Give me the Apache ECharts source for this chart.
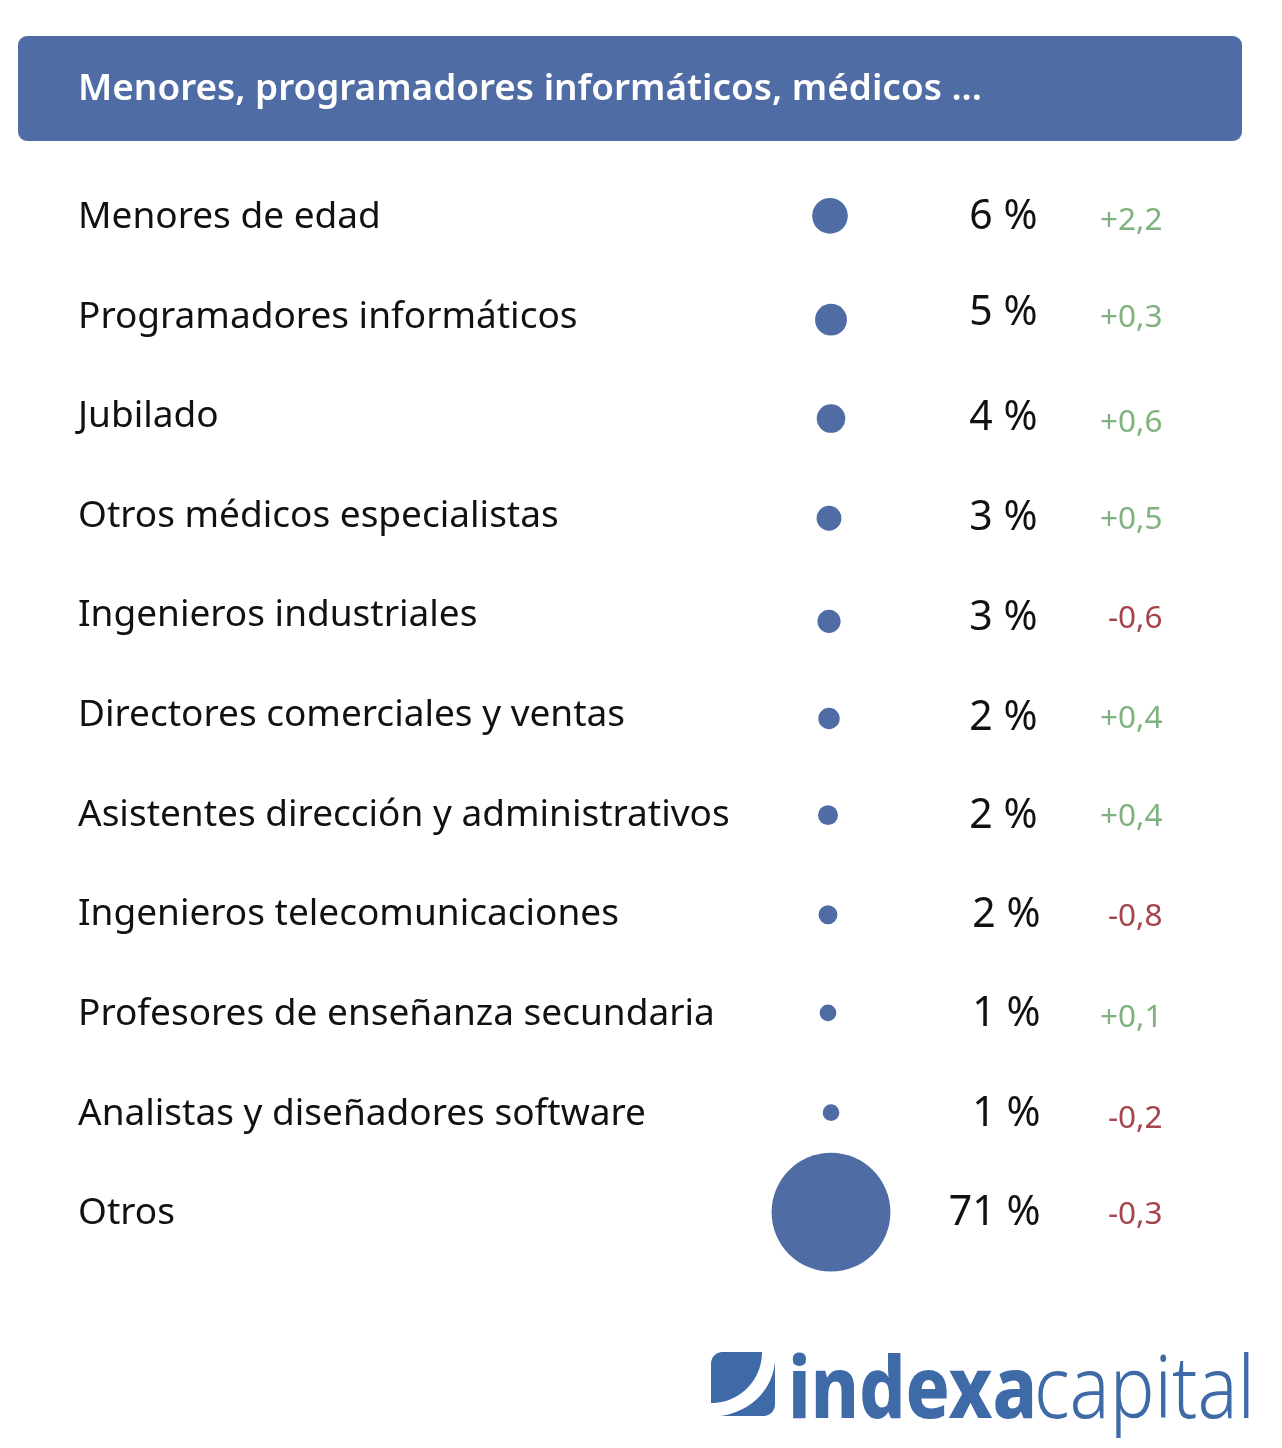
<!DOCTYPE html>
<html lang="es">
<head>
    <meta charset="UTF-8">
    <title>Menores, programadores informáticos, médicos ...</title>
    <script src="https://cdn.jsdelivr.net/npm/echarts@6/dist/echarts.min.js"></script>
    <style>
        html, body { margin: 0; background: #fff; }
    </style>
</head>
<body>
<div id="container" style="width:1282px;height:1448px;"></div>
<script>

    var titleText = 'Menores, programadores informáticos, médicos ...';
    var categories = [
        'Menores de edad',
        'Programadores informáticos',
        'Jubilado',
        'Otros médicos especialistas',
        'Ingenieros industriales',
        'Directores comerciales y ventas',
        'Asistentes dirección y administrativos',
        'Ingenieros telecomunicaciones',
        'Profesores de enseñanza secundaria',
        'Analistas y diseñadores software',
        'Otros'
    ];
    // the labels show them rounded
    var shares = [6.4, 5.1, 4.1, 3.1, 2.7, 2.3, 2.0, 1.8, 1.4, 1.4, 71];
    var changes = [2.2, 0.3, 0.6, 0.5, -0.6, 0.4, 0.4, -0.8, 0.1, -0.2, -0.3];

    var BLUE = '#4f6ca4';
    var LOGO_BLUE = '#3f6aa8';
    var FONT = '"Noto Sans", sans-serif';

    // the source table is hand placed, rows drift a few px off the even grid
    var dotNudge = [[0.5, -1.5], [1.5, 2.7], [1.5, 2], [-0.5, 2], [-0.5, 5.5], [-0.5, 3], [-1.5, 0], [-1.5, 0], [-1.5, -1.5], [1.5, -1.5], [1.5, -1.5]];
    var shareNudge = [[-1, 0], [-1, -4], [-1, 2], [-1, 2], [-1, 2], [-1, 3], [-1, 1], [2, 1], [2, 0], [2, 0], [2, 0]];
    var changeNudge = [[0, 4], [0, 1], [0, 6], [0, 4], [0, 3], [0, 4], [0, 2], [0, 2], [0, 4], [0, 5], [0, 1]];

    function changeLabel(v) {
        return (v > 0 ? '+' : '-') + Math.abs(v).toFixed(1).replace('.', ',');
    }

    // logo outline helper, polygons only take points so the curve gets sampled
    function bezier(p0, p1, p2, p3) {
        var pts = [];
        for (var k = 0; k <= 24; k++) {
            var t = k / 24, u = 1 - t;
            pts.push([
                u * u * u * p0[0] + 3 * u * u * t * p1[0] + 3 * u * t * t * p2[0] + t * t * t * p3[0],
                u * u * u * p0[1] + 3 * u * u * t * p1[1] + 3 * u * t * t * p2[1] + t * t * t * p3[1]
            ]);
        }
        return pts;
    }

    var dom = document.getElementById('container');
    var myChart = echarts.init(dom, null, {renderer: 'canvas'});

    // a hidden pixel wide x axis, each series is one column of the table
    var dotColumn = 829.5, shareColumn = 1039, changeColumn = 1163;

    function textColumn(x, textOf, colorOf, size, nudge) {
        return {
            type: 'scatter',
            symbolSize: 1,
            silent: true,
            itemStyle: {color: 'rgba(0,0,0,0)', opacity: 1},
            data: categories.map(function (name, i) {
                return {
                    value: [x, name],
                    label: {
                        show: true,
                        position: 'left',
                        distance: 0,
                        offset: nudge[i],
                        formatter: textOf(i),
                        color: colorOf(i),
                        fontSize: size,
                        fontFamily: FONT
                    }
                };
            })
        };
    }

    var option = {
        animation: false,
        backgroundColor: '#ffffff',
        title: {
            text: titleText,
            left: 78,
            top: 71,
            padding: 0,
            textStyle: {color: '#fff', fontSize: 36.9, fontWeight: 600, fontFamily: FONT}
        },
        grid: {left: 0, right: 0, top: 167.5, height: 1096},
        xAxis: {type: 'value', min: 0, max: 1282, show: false},
        yAxis: {
            type: 'category',
            inverse: true,
            data: categories,
            axisLine: {show: false},
            axisTick: {show: false},
            splitLine: {show: false},
            axisLabel: {
                align: 'left',
                margin: -78,
                color: '#111',
                fontSize: 37,
                fontFamily: FONT
            }
        },
        graphic: [
            {
                type: 'rect',
                z: -1,
                shape: {x: 18, y: 36, width: 1224, height: 105, r: 9},
                style: {fill: BLUE}
            },
            {
                type: 'polygon',
                shape: {
                    points: bezier([711, 1403], [740, 1403], [762, 1380], [762, 1352])
                        .concat(bezier([723, 1352], [716, 1352], [711, 1357], [711, 1364]))
                },
                style: {fill: LOGO_BLUE}
            },
            {
                type: 'polygon',
                shape: {
                    points: bezier([720, 1416], [750, 1412], [773, 1390], [775, 1361])
                        .concat(bezier([775, 1404], [775, 1411], [770, 1416], [763, 1416]))
                },
                style: {fill: LOGO_BLUE}
            },
            {
                type: 'text',
                x: 788, y: 1350,
                scaleX: 0.85,
                style: {
                    text: 'indexa', fill: LOGO_BLUE, fontSize: 86, fontWeight: 800,
                    fontFamily: FONT
                }
            },
            {
                type: 'text',
                x: 1034, y: 1350,
                scaleX: 0.87,
                style: {
                    text: 'capital', fill: LOGO_BLUE, fontSize: 86, fontWeight: 300,
                    fontFamily: FONT
                }
            }
        ],
        series: [
            {
                type: 'scatter',
                silent: true,
                itemStyle: {color: BLUE, opacity: 1},
                // bubble area follows the share
                symbolSize: function (val) {
                    return Math.sqrt(val[2]) * 14.1;
                },
                data: categories.map(function (name, i) {
                    return {value: [dotColumn, name, shares[i]], symbolOffset: dotNudge[i]};
                })
            },
            textColumn(shareColumn, function (i) {
                return Math.round(shares[i]) + ' %';
            }, function () {
                return '#111';
            }, 41, shareNudge),
            textColumn(changeColumn, function (i) {
                return changeLabel(changes[i]);
            }, function (i) {
                return changes[i] > 0 ? '#7fb27f' : '#a5454b';
            }, 31.5, changeNudge)
        ]
    };

    myChart.setOption(option);

</script>
</body>
</html>
